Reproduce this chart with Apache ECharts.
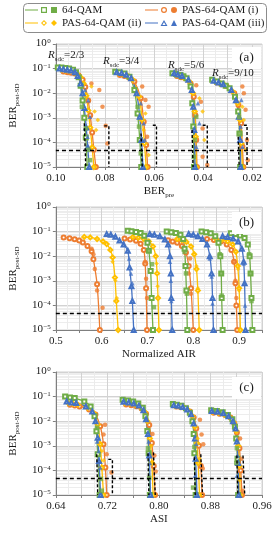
<!DOCTYPE html>
<html><head><meta charset="utf-8">
<script src="https://cdn.jsdelivr.net/npm/echarts@6/dist/echarts.min.js"></script>
<style>html,body{margin:0;padding:0;background:#fff}#c{width:279px;height:536px}</style>
</head><body><div id="c"></div><script>
const SERIES_NAMES = ['64-QAM', 'PAS-64-QAM (i)', 'PAS-64-QAM (ii)', 'PAS-64-QAM (iii)'];
const THRESHOLD = 4.7e-5;
const Y_MIN = 1e-5, Y_MAX = 1;

// ---------- panel (a): BER_pre (axis reversed) ----------
const a_x_range = [0.016, 0.10];
const a_x_ticks = [0.10, 0.09, 0.08, 0.07, 0.06, 0.05, 0.04, 0.03, 0.02];
const a_x_labels = [0.10, 0.08, 0.06, 0.04, 0.02];
const a_x_minor = [0.095, 0.085, 0.075, 0.065, 0.055, 0.045, 0.035, 0.025];
const a_rates = ['2/3', '3/4', '5/6', '9/10'];
const a_qam_fit = [
  [[0.0992,0.112],[0.0977,0.110],[0.0961,0.105],[0.0946,0.100],[0.0930,0.089],[0.0918,0.071],[0.0907,0.045],[0.0899,0.020],[0.0891,0.0050],[0.0884,0.0010],[0.0878,1.6e-4],[0.0872,1e-5]],
  [[0.0758,0.074],[0.0740,0.071],[0.0720,0.063],[0.0700,0.047],[0.0680,0.0135],[0.0667,0.0015],[0.0658,1.26e-4],[0.0652,1e-5]],
  [[0.0525,0.065],[0.0510,0.060],[0.0492,0.055],[0.0480,0.049],[0.0467,0.041],[0.0451,0.0186],[0.0444,0.0039],[0.0440,4.4e-4],[0.0437,1e-5]],
  [[0.0363,0.035],[0.0343,0.030],[0.0324,0.025],[0.0308,0.020],[0.0292,0.0158],[0.0270,0.0072],[0.0257,0.0018],[0.0252,2.3e-4],[0.0249,1e-5]]
];
const a_p1_fit = [
  [[0.0969,0.076],[0.0953,0.071],[0.0938,0.068],[0.0922,0.063],[0.0907,0.052],[0.0891,0.035],[0.0880,0.018],[0.0868,0.005],[0.0860,0.00126],[0.0852,2.5e-4],[0.0845,5e-5],[0.0837,1e-5]],
  [[0.0739,0.055],[0.0720,0.050],[0.0701,0.042],[0.0680,0.030],[0.0654,0.0062],[0.0642,6.9e-4],[0.0632,7.9e-5],[0.0626,1e-5]],
  [[0.0506,0.050],[0.0490,0.045],[0.0473,0.041],[0.0451,0.025],[0.0438,0.0072],[0.0432,0.0013],[0.0428,1.26e-4],[0.0425,1e-5]],
  [[0.0344,0.027],[0.0325,0.023],[0.0305,0.0195],[0.0273,0.010],[0.0256,0.0033],[0.0245,6e-4],[0.0240,6.8e-5],[0.0236,1e-5]]
];
const a_p2_fit = [
  [[0.0977,0.089],[0.0961,0.083],[0.0946,0.079],[0.0930,0.074],[0.0915,0.063],[0.0899,0.045],[0.0887,0.025],[0.0876,0.0079],[0.0868,0.002],[0.0860,4e-4],[0.0852,6.3e-5],[0.0845,1e-5]],
  [[0.0745,0.065],[0.0726,0.060],[0.0707,0.050],[0.0687,0.035],[0.0661,0.0072],[0.0648,8.1e-4],[0.0639,9.1e-5],[0.0632,1e-5]],
  [[0.0512,0.055],[0.0497,0.050],[0.0480,0.044],[0.0456,0.0295],[0.0441,0.010],[0.0434,0.0018],[0.0430,1.7e-4],[0.0428,1e-5]],
  [[0.0350,0.0295],[0.0331,0.025],[0.0312,0.021],[0.0279,0.0115],[0.0259,0.0039],[0.0249,8.1e-4],[0.0244,9.1e-5],[0.0240,1e-5]]
];
const a_p3_fit = [
  [[0.0985,0.100],[0.0969,0.095],[0.0953,0.089],[0.0938,0.083],[0.0922,0.071],[0.0911,0.050],[0.0899,0.025],[0.0891,0.010],[0.0884,0.0025],[0.0876,4e-4],[0.0870,6.3e-5],[0.0864,1e-5]],
  [[0.0752,0.071],[0.0732,0.066],[0.0713,0.056],[0.0693,0.041],[0.0671,0.010],[0.0658,0.0011],[0.0651,1.26e-4],[0.0645,1e-5]],
  [[0.0518,0.065],[0.0503,0.057],[0.0486,0.050],[0.0460,0.035],[0.0446,0.0135],[0.0440,0.0028],[0.0436,3.2e-4],[0.0433,1e-5]],
  [[0.0357,0.032],[0.0337,0.027],[0.0318,0.023],[0.0285,0.0135],[0.0266,0.0052],[0.0254,0.0011],[0.0249,1.26e-4],[0.0247,1e-5]]
];
const a_qam_meas = [
  [[0.0894,0.0028],[0.0878,3.7e-4],[0.0868,5e-5],[0.0861,1.9e-5]],
  [[0.0667,0.0028],[0.0661,4.4e-4],[0.0654,3.6e-5]],
  [[0.0428,0.0011],[0.0434,1.26e-4],[0.0438,2.6e-5]],
  [[0.0253,0.0011],[0.0249,2.3e-4]]
];
const a_p1_meas = [
  [[0.0855,0.025],[0.0823,0.0135],[0.0810,0.0028],[0.0797,4.7e-4],[0.0790,9e-5]],
  [[0.0648,0.0186],[0.0635,0.0053],[0.0622,0.0028],[0.0628,1.7e-4]],
  [[0.0428,0.021],[0.0409,0.0045],[0.0402,3.7e-4],[0.0402,2.6e-5],[0.0383,1.2e-5]],
  [[0.0240,0.0186],[0.0234,0.010],[0.0227,0.0021],[0.0221,1.26e-4],[0.0218,1.9e-5]]
];
const a_p2_meas = [
  [[0.0855,0.0186],[0.0842,0.0018],[0.0829,8.1e-4],[0.0836,3.2e-4]],
  [[0.0635,0.0015],[0.0642,3.2e-4],[0.0622,3.1e-5]],
  [[0.0415,0.0062],[0.0402,0.0018],[0.0395,1.26e-4]],
  [[0.0240,0.0028],[0.0234,8.1e-4],[0.0227,4.9e-5]]
];
const a_p3_meas = [
  [[0.0881,0.0135],[0.0868,0.0052],[0.0861,0.0011],[0.0871,1.7e-4]],
  [[0.0654,0.0039],[0.0642,6e-4],[0.0638,1.26e-4]],
  [[0.0421,0.0039],[0.0415,6e-4],[0.0428,6.7e-5]],
  [[0.0244,0.0053],[0.0247,4.4e-4],[0.0240,6.7e-5]]
];
const a_ref = [
  [[0.0884,6e-4],[0.0878,6e-4],[0.0878,1e-5]], [[0.0803,4.7e-4],[0.0784,4.7e-4],[0.0784,1e-5]],
  [[0.0653,2.3e-4],[0.0648,2.3e-4],[0.0648,1e-5]], [[0.0605,5e-4],[0.0590,5e-4],[0.0590,1e-5]],
  [[0.0445,3.2e-4],[0.0441,3.2e-4],[0.0441,1e-5]], [[0.0402,5e-4],[0.0383,5e-4],[0.0383,1e-5]],
  [[0.0257,1.7e-4],[0.0253,1.7e-4],[0.0253,1e-5]], [[0.0234,5e-4],[0.0221,5e-4],[0.0221,1e-5]]
];

// ---------- panel (b): Normalized AIR ----------
const b_x_range = [0.5, 0.95];
const b_x_ticks = [0.5, 0.55, 0.6, 0.65, 0.7, 0.75, 0.8, 0.85, 0.9, 0.95];
const b_x_labels = [0.5, 0.6, 0.7, 0.8, 0.9];
const b_x_minor = [0.525, 0.575, 0.625, 0.675, 0.725, 0.775, 0.825, 0.875, 0.925];
const b_qam_fit = [
  [[0.657,0.108],[0.665,0.104],[0.675,0.097],[0.685,0.087],[0.693,0.068],[0.700,0.035],[0.703,0.0166],[0.707,0.0025],[0.709,2e-4],[0.712,1e-5]],
  [[0.742,0.100],[0.752,0.095],[0.762,0.088],[0.772,0.075],[0.778,0.050],[0.781,0.020],[0.783,0.004],[0.785,4e-4],[0.787,1e-5]],
  [[0.818,0.100],[0.828,0.095],[0.838,0.085],[0.848,0.065],[0.855,0.035],[0.859,0.010],[0.861,0.002],[0.862,2e-4],[0.864,1e-5]],
  [[0.882,0.085],[0.892,0.080],[0.902,0.070],[0.912,0.055],[0.919,0.030],[0.923,0.010],[0.925,0.002],[0.927,2e-4],[0.929,1e-5]]
];
const b_p1_fit = [
  [[0.517,0.058],[0.530,0.054],[0.541,0.049],[0.551,0.043],[0.559,0.036],[0.569,0.026],[0.578,0.016],[0.582,0.0076],[0.590,7.2e-4],[0.596,1e-5]],
  [[0.650,0.052],[0.662,0.048],[0.675,0.042],[0.685,0.032],[0.692,0.018],[0.695,0.005],[0.697,5e-4],[0.699,1e-5]],
  [[0.745,0.045],[0.755,0.040],[0.765,0.035],[0.775,0.026],[0.784,0.014],[0.790,0.004],[0.795,5e-4],[0.800,1e-5]],
  [[0.830,0.050],[0.845,0.046],[0.860,0.040],[0.873,0.030],[0.883,0.018],[0.889,0.006],[0.892,8e-4],[0.894,1e-4],[0.896,1e-5]]
];
const b_p2_fit = [
  [[0.562,0.061],[0.575,0.058],[0.590,0.050],[0.603,0.040],[0.611,0.031],[0.619,0.018],[0.624,0.0089],[0.629,0.00135],[0.632,1.5e-4],[0.636,1e-5]],
  [[0.668,0.060],[0.680,0.056],[0.692,0.050],[0.703,0.040],[0.712,0.025],[0.718,0.010],[0.721,0.002],[0.723,2e-4],[0.725,1e-5]],
  [[0.765,0.050],[0.775,0.045],[0.785,0.038],[0.795,0.025],[0.802,0.012],[0.807,0.003],[0.810,4e-4],[0.813,1e-5]],
  [[0.850,0.050],[0.862,0.046],[0.875,0.040],[0.886,0.030],[0.893,0.015],[0.897,0.004],[0.900,5e-4],[0.903,1e-5]]
];
const b_p3_fit = [
  [[0.611,0.079],[0.620,0.074],[0.630,0.062],[0.639,0.043],[0.648,0.030],[0.657,0.0166],[0.661,0.0035],[0.665,6e-4],[0.667,1.5e-4],[0.670,1e-5]],
  [[0.705,0.080],[0.715,0.075],[0.727,0.065],[0.738,0.048],[0.745,0.030],[0.749,0.010],[0.751,0.002],[0.752,2e-4],[0.754,1e-5]],
  [[0.790,0.080],[0.800,0.075],[0.810,0.065],[0.820,0.050],[0.830,0.030],[0.836,0.010],[0.840,0.002],[0.842,2e-4],[0.844,1e-5]],
  [[0.864,0.065],[0.875,0.060],[0.887,0.052],[0.898,0.040],[0.906,0.020],[0.910,0.006],[0.912,8e-4],[0.914,1e-5]]
];
const b_qam_meas = [
  [[0.703,0.0166],[0.710,0.0047],[0.714,8.5e-5]],
  [[0.781,0.015],[0.784,0.002],[0.786,3e-4]],
  [[0.858,0.012],[0.861,0.002],[0.862,2.5e-4]],
  [[0.922,0.012],[0.925,0.002],[0.927,1.5e-4]]
];
const b_p1_meas = [
  [[0.578,0.020],[0.582,0.012],[0.585,0.003],[0.590,4e-4],[0.602,8e-5]],
  [[0.695,0.006],[0.697,0.0012],[0.699,2e-4]],
  [[0.793,0.008],[0.790,0.002],[0.795,3e-4]],
  [[0.889,0.006],[0.892,0.001],[0.894,2e-4]]
];
const b_p2_meas = [
  [[0.624,0.006],[0.630,0.001],[0.633,2e-4]],
  [[0.720,0.005],[0.722,6e-4]],
  [[0.807,0.004],[0.810,5e-4]],
  [[0.898,0.003],[0.900,4e-4]]
];
const b_p3_meas = [
  [[0.660,0.008],[0.664,0.002],[0.667,8e-4]],
  [[0.749,0.006],[0.751,0.001],[0.752,1.5e-4]],
  [[0.836,0.008],[0.840,0.0015],[0.842,1.2e-4]],
  [[0.910,0.005],[0.912,8e-4],[0.913,1e-4]]
];
const b_ref = [];

// ---------- panel (c): ASI ----------
const c_x_range = [0.64, 0.96];
const c_x_ticks = [0.64, 0.68, 0.72, 0.76, 0.80, 0.84, 0.88, 0.92, 0.96];
const c_x_labels = [0.64, 0.72, 0.80, 0.88, 0.96];
const c_x_minor = [0.66, 0.70, 0.74, 0.78, 0.82, 0.86, 0.90, 0.94];
const c_qam_fit = [
  [[0.6544,0.100],[0.662,0.093],[0.6693,0.087],[0.6842,0.063],[0.694,0.040],[0.700,0.0158],[0.703,0.0039],[0.705,4.5e-4],[0.708,1e-5]],
  [[0.7437,0.074],[0.752,0.070],[0.760,0.063],[0.768,0.052],[0.775,0.035],[0.779,0.016],[0.782,0.004],[0.784,5e-4],[0.786,1e-5]],
  [[0.8216,0.050],[0.828,0.047],[0.835,0.042],[0.842,0.034],[0.848,0.022],[0.852,0.010],[0.854,0.003],[0.855,5e-4],[0.857,1e-5]],
  [[0.8811,0.028],[0.890,0.026],[0.899,0.023],[0.907,0.018],[0.914,0.012],[0.918,0.006],[0.920,0.002],[0.922,3e-4],[0.923,1e-5]]
];
const c_p1_fit = [
  [[0.6619,0.047],[0.6693,0.043],[0.6768,0.040],[0.6916,0.030],[0.7015,0.0186],[0.7089,0.0063],[0.714,0.00115],[0.7169,1.3e-4],[0.7189,1e-5]],
  [[0.749,0.048],[0.757,0.045],[0.765,0.041],[0.773,0.033],[0.780,0.020],[0.785,0.007],[0.789,0.0013],[0.792,1.5e-4],[0.794,1e-5]],
  [[0.827,0.040],[0.834,0.037],[0.841,0.033],[0.848,0.025],[0.854,0.014],[0.858,0.005],[0.862,0.001],[0.865,1.5e-4],[0.867,1e-5]],
  [[0.885,0.022],[0.894,0.020],[0.903,0.018],[0.911,0.014],[0.917,0.008],[0.921,0.0035],[0.925,8e-4],[0.927,1e-4],[0.929,1e-5]]
];
const c_p2_fit = [
  [[0.6593,0.055],[0.6667,0.051],[0.6742,0.047],[0.6891,0.035],[0.6991,0.021],[0.705,0.0072],[0.7089,0.00115],[0.7114,1.3e-4],[0.714,1e-5]],
  [[0.747,0.055],[0.755,0.052],[0.763,0.047],[0.771,0.038],[0.778,0.024],[0.782,0.010],[0.786,0.002],[0.789,2e-4],[0.791,1e-5]],
  [[0.825,0.042],[0.832,0.039],[0.839,0.035],[0.846,0.027],[0.852,0.016],[0.856,0.006],[0.859,0.0013],[0.861,2e-4],[0.863,1e-5]],
  [[0.883,0.024],[0.892,0.022],[0.901,0.019],[0.909,0.015],[0.916,0.009],[0.920,0.004],[0.923,0.001],[0.925,1.5e-4],[0.926,1e-5]]
];
const c_p3_fit = [
  [[0.6568,0.063],[0.664,0.058],[0.6717,0.055],[0.6866,0.040],[0.6966,0.025],[0.7015,0.010],[0.705,0.0021],[0.707,2.4e-4],[0.7095,1e-5]],
  [[0.745,0.062],[0.753,0.058],[0.761,0.052],[0.769,0.043],[0.776,0.028],[0.780,0.012],[0.783,0.003],[0.785,4e-4],[0.787,1e-5]],
  [[0.823,0.045],[0.830,0.042],[0.837,0.038],[0.844,0.030],[0.850,0.019],[0.854,0.008],[0.856,0.002],[0.857,3e-4],[0.859,1e-5]],
  [[0.882,0.026],[0.891,0.024],[0.900,0.021],[0.908,0.016],[0.915,0.010],[0.919,0.005],[0.921,0.0015],[0.923,2e-4],[0.924,1e-5]]
];
const c_qam_meas = [
  [[0.704,0.0054],[0.7099,4.5e-5],[0.7114,1.5e-5]],
  [[0.783,8e-4],[0.785,5e-5]],
  [[0.855,9e-4],[0.853,2e-5]],
  [[0.921,8e-4],[0.920,2e-4]]
];
const c_p1_meas = [
  [[0.7164,0.0072],[0.714,0.0029],[0.7189,4.5e-4],[0.7263,8.3e-5]],
  [[0.790,0.003],[0.793,4e-4],[0.795,9e-5]],
  [[0.8637,0.0115],[0.8662,0.0029],[0.8688,0.00115],[0.868,1.2e-4]],
  [[0.926,0.002],[0.928,3e-4],[0.930,1.5e-5]]
];
const c_p2_meas = [
  [[0.7114,6.2e-4],[0.714,2.5e-4]],
  [[0.788,0.001],[0.790,2e-4]],
  [[0.860,0.002],[0.863,3e-4]],
  [[0.924,0.001],[0.925,4e-5]]
];
const c_p3_meas = [
  [[0.704,0.0015],[0.7065,6.2e-4],[0.7089,1.3e-4]],
  [[0.784,0.0015],[0.786,2e-4]],
  [[0.858,0.0012],[0.856,6e-5]],
  [[0.922,4e-4],[0.921,6e-5]]
];
const c_ref = [
  [[0.7035,4.5e-4],[0.705,4.5e-4],[0.705,1e-5]], [[0.7214,2.8e-4],[0.7278,2.8e-4],[0.7278,1e-5]],
  [[0.783,5e-4],[0.7844,5e-4],[0.7844,1e-5]], [[0.7915,5.4e-4],[0.7943,5.4e-4],[0.7943,1e-5]],
  [[0.855,3.4e-4],[0.8563,3.4e-4],[0.8563,1e-5]], [[0.865,4.5e-4],[0.8677,4.5e-4],[0.8677,1e-5]],
  [[0.921,4e-4],[0.9225,4e-4],[0.9225,1e-5]], [[0.9305,4e-4],[0.9332,4e-4],[0.9332,1e-5]]
];

// ---------- styling ----------
const FONT = 'Liberation Serif';
const TXT = '#1a1a1a';
const STYLE = [
  {color:'#70AD47', hollow:'emptyRect', filled:'rect'},
  {color:'#ED7D31', hollow:'emptyCircle', filled:'circle'},
  {color:'#FFC000', hollow:'emptyDiamond', filled:'diamond'},
  {color:'#4472C4', hollow:'emptyTriangle', filled:'triangle'}
];
const DRAW_ORDER = [1, 2, 0, 3];
const LINE_ICON = 'M0,2.5 L13,2.5 L13,3.6 L0,3.6 Z ';
const ICONS = [
  LINE_ICON + 'M16,0 L22,0 L22,6 L16,6 Z M17.2,1.2 L17.2,4.8 L20.8,4.8 L20.8,1.2 Z M26,0 L32,0 L32,6 L26,6 Z',
  LINE_ICON + 'M16,3 A3,3 0 1,1 22,3 A3,3 0 1,1 16,3 Z M17.2,3 A1.8,1.8 0 1,0 20.8,3 A1.8,1.8 0 1,0 17.2,3 Z M26,3 A3,3 0 1,1 32,3 A3,3 0 1,1 26,3 Z',
  LINE_ICON + 'M19,0 L22,3 L19,6 L16,3 Z M19,1.4 L17.4,3 L19,4.6 L20.6,3 Z M29,0 L32,3 L29,6 L26,3 Z',
  LINE_ICON + 'M19,0 L22.5,6 L15.5,6 Z M19,2.2 L17.4,5 L20.6,5 Z M29,0 L32,6 L26,6 Z'
];
const LEGEND_POS = [[25, 4.5], [145, 4.5], [25, 17.5], [145, 17.5]];

const PANELS = [
  {fits:[a_qam_fit,a_p1_fit,a_p2_fit,a_p3_fit], meas:[a_qam_meas,a_p1_meas,a_p2_meas,a_p3_meas], refs:a_ref,
   range:a_x_range, ticks:a_x_ticks, labels:a_x_labels, minor:a_x_minor, inverse:true, dec:2, name:'{b|BER}{s|pre}', top:44},
  {fits:[b_qam_fit,b_p1_fit,b_p2_fit,b_p3_fit], meas:[b_qam_meas,b_p1_meas,b_p2_meas,b_p3_meas], refs:b_ref,
   range:b_x_range, ticks:b_x_ticks, labels:b_x_labels, minor:b_x_minor, inverse:false, dec:1, name:'{b|Normalized AIR}', top:207},
  {fits:[c_qam_fit,c_p1_fit,c_p2_fit,c_p3_fit], meas:[c_qam_meas,c_p1_meas,c_p2_meas,c_p3_meas], refs:c_ref,
   range:c_x_range, ticks:c_x_ticks, labels:c_x_labels, minor:c_x_minor, inverse:false, dec:2, name:'{b|ASI}', top:372}
];
const PANEL_TAGS = ['(a)', '(b)', '(c)'];

const richBase = {
  b: {fontFamily:FONT, fontSize:11, color:TXT, lineHeight:12, verticalAlign:'top'},
  s: {fontFamily:FONT, fontSize:7, color:TXT, lineHeight:8, verticalAlign:'top', padding:[6,0,0,0]},
  p: {fontFamily:FONT, fontSize:7, color:TXT, lineHeight:8, verticalAlign:'top', padding:[0,0,0,0.5]}
};

const grids = [], xAxes = [], yAxes = [], series = [];
PANELS.forEach((P, pi) => {
  grids.push({left:46, right:17, top:P.top, height:123, show:true, backgroundColor:'#fff', borderColor:'#d0d0d0', borderWidth:1});
  xAxes.push({
    type:'value', gridIndex:pi, min:P.range[0], max:P.range[1], inverse:P.inverse,
    axisLine:{show:true, onZero:false, lineStyle:{color:'#7f7f7f'}},
    axisTick:{show:true, inside:false, length:3, customValues:P.ticks, lineStyle:{color:'#7f7f7f'}},
    axisLabel:{customValues:P.labels, margin:6, fontFamily:FONT, fontSize:11, color:TXT, formatter:v => v.toFixed(P.dec)},
    splitLine:{show:true, lineStyle:{color:'#d2d2d2', width:1}},
    name:P.name, nameLocation:'middle', nameGap:19, nameTextStyle:{rich:richBase}
  });
  yAxes.push({
    type:'log', logBase:10, gridIndex:pi, min:Y_MIN, max:Y_MAX,
    axisLine:{show:true, lineStyle:{color:'#7f7f7f'}},
    axisTick:{show:true, length:3, lineStyle:{color:'#7f7f7f'}},
    axisLabel:{margin:5, rich:richBase, formatter:v => {
      const e = Math.round(Math.log10(v));
      return '{b|10}{p|' + (e === 0 ? '0' : '\u2212' + (-e)) + '}';
    }},
    splitLine:{show:true, lineStyle:{color:'#d2d2d2'}},
    minorTick:{show:false, splitNumber:9},
    minorSplitLine:{show:true, lineStyle:{color:'#ededed'}},
    name:'{b|BER}{s|post-SD}', nameLocation:'middle', nameRotate:90, nameGap:27, nameTextStyle:{rich:richBase}
  });
});
PANELS.forEach((P, pi) => {
  xAxes.push({
    type:'value', gridIndex:pi, min:P.range[0], max:P.range[1], inverse:P.inverse, position:'top',
    axisLine:{show:false}, axisTick:{show:false, customValues:P.minor}, axisLabel:{show:false},
    splitLine:{show:true, lineStyle:{color:'#ebebeb', width:1}}
  });
});

PANELS.forEach((P, pi) => {
  DRAW_ORDER.forEach(k => {
    P.fits[k].forEach(pts => series.push({
      type:'line', name:SERIES_NAMES[k], xAxisIndex:pi, yAxisIndex:pi, data:pts,
      smooth:0.3, symbol:STYLE[k].hollow, symbolSize:4, showSymbol:true, clip:true,
      lineStyle:{color:STYLE[k].color, width:1.3},
      itemStyle:{color:STYLE[k].color, borderColor:STYLE[k].color, borderWidth:1},
      silent:true, z:2
    }));
  });
  DRAW_ORDER.forEach(k => {
    P.meas[k].forEach(pts => series.push({
      type:'scatter', name:SERIES_NAMES[k], xAxisIndex:pi, yAxisIndex:pi, data:pts,
      symbol:STYLE[k].filled, symbolSize:4.5, clip:true,
      itemStyle:{color:STYLE[k].color}, silent:true, z:3
    }));
  });
  series.push({
    type:'line', xAxisIndex:pi, yAxisIndex:pi, data:[[P.range[0], THRESHOLD],[P.range[1], THRESHOLD]],
    symbol:'none', lineStyle:{color:'#000', width:1.5, type:[4,3]}, silent:true, z:4
  });
  P.refs.forEach(pts => series.push({
    type:'line', xAxisIndex:pi, yAxisIndex:pi, data:pts,
    symbol:'none', lineStyle:{color:'#000', width:1.4, type:[3,2]}, silent:true, z:4
  }));
});

const legends = SERIES_NAMES.map((n, k) => ({
  show:true, data:[{name:n, icon:'path://' + ICONS[k]}], left:LEGEND_POS[k][0], top:LEGEND_POS[k][1],
  padding:0, itemWidth:32, itemHeight:6, itemGap:0, symbolKeepAspect:false, selectedMode:false,
  itemStyle:{color:STYLE[k].color, borderWidth:0},
  textStyle:{fontFamily:FONT, fontSize:11, color:TXT}
}));

const rateRich = {
  i:{fontFamily:FONT, fontSize:11, fontStyle:'italic', fill:TXT, lineHeight:12, verticalAlign:'top'},
  s:{fontFamily:FONT, fontSize:7, fill:TXT, lineHeight:8, verticalAlign:'top', padding:[6,0,0,0]},
  n:{fontFamily:FONT, fontSize:11, fill:TXT, lineHeight:12, verticalAlign:'top'}
};
const RATE_POS = [[48, 50], [103, 56], [168, 60], [212, 68]];
const graphics = [
  {type:'rect', shape:{x:23.5, y:3.5, width:243, height:29, r:4}, style:{fill:'none', stroke:'#8c8c8c', lineWidth:1}, z:10}
];
a_rates.forEach((r, i) => graphics.push({
  type:'text', x:RATE_POS[i][0], y:RATE_POS[i][1], z:20,
  style:{text:'{i|R}{s|sdc}{n|=' + r + '}', rich:rateRich}
}));
const TAG_Y = [58, 223, 388];
PANEL_TAGS.forEach((t, i) => {
  graphics.push({type:'rect', shape:{x:232, y:TAG_Y[i]-11, width:29, height:22}, style:{fill:'#fff'}, z:15});
  graphics.push({type:'text', x:246.5, y:TAG_Y[i], z:20,
    style:{text:t, fontFamily:FONT, fontSize:13, fill:TXT, align:'center', verticalAlign:'middle'}});
});

const chart = echarts.init(document.getElementById('c'), null, {renderer:'canvas'});
chart.setOption({
  animation:false,
  backgroundColor:'#fff',
  grid:grids, xAxis:xAxes, yAxis:yAxes, series:series,
  legend:legends, graphic:graphics
});
</script></body></html>
